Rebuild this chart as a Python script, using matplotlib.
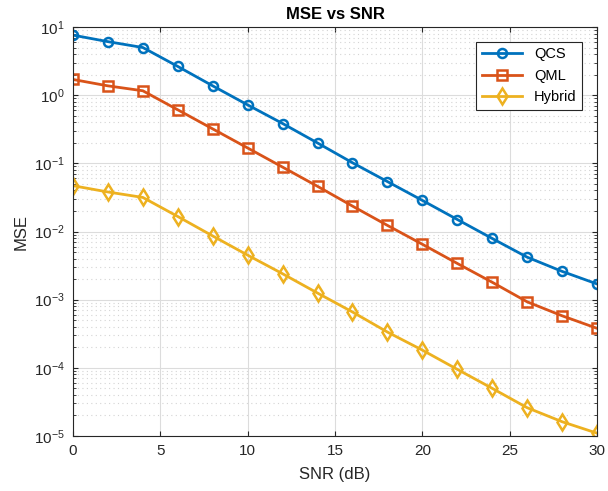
import numpy as np
import matplotlib.pyplot as plt
from matplotlib.ticker import LogLocator, NullFormatter

plt.rcParams['font.family'] = ['Liberation Sans', 'DejaVu Sans']

snr = [0, 2, 4, 6, 8, 10, 12, 14, 16, 18, 20, 22, 24, 26, 28, 30]
mse_qcs = [7.6, 6.1, 5.0, 2.64, 1.37, 0.72, 0.384, 0.199, 0.102, 0.054,
           0.0286, 0.015, 0.0079, 0.0042, 0.0026, 0.0017]
mse_qml = [1.70, 1.37, 1.16, 0.61, 0.32, 0.168, 0.088, 0.046, 0.0236, 0.0123,
           0.0065, 0.0034, 0.0018, 0.00093, 0.00058, 0.00038]
mse_hybrid = [0.047, 0.038, 0.0316, 0.0166, 0.0086, 0.0045, 0.0024, 0.00125,
              0.00066, 0.000335, 0.000182, 9.5e-5, 5.0e-5, 2.6e-5, 1.62e-5, 1.1e-5]

fig = plt.figure(figsize=(6.08, 4.91), dpi=100)
ax = fig.add_axes([0.120, 0.112, 0.862, 0.833])

style = dict(linewidth=2, markeredgewidth=1.8, markerfacecolor='none')
ax.semilogy(snr, mse_qcs, '-o', color='#0072BD', label='QCS', markersize=6.5, **style)
ax.semilogy(snr, mse_qml, '-s', color='#D95319', label='QML', markersize=6.5, **style)
ax.semilogy(snr, mse_hybrid, '-d', color='#EDB120', label='Hybrid', markersize=8.5, **style)

ax.set_xlim(0, 30)
ax.set_ylim(1e-5, 1e1)
ax.set_xticks([0, 5, 10, 15, 20, 25, 30])
ax.yaxis.set_minor_locator(LogLocator(base=10, subs=np.arange(2, 10)))
ax.yaxis.set_minor_formatter(NullFormatter())

ax.grid(True, which='major', color='#dcdcdc', linewidth=0.8)
ax.grid(True, which='minor', axis='y', color='#d4d4d4', linestyle=(0, (1, 3)), linewidth=0.8)
ax.set_axisbelow(True)

ax.tick_params(which='both', direction='in', top=True, right=True, colors='#262626',
               labelsize=11, pad=6)
ax.tick_params(axis='x', which='minor', bottom=False, top=False)
for sp in ax.spines.values():
    sp.set_color('#262626')
    sp.set_linewidth(0.8)

ax.set_xlabel('SNR (dB)', fontsize=12, color='#262626', labelpad=6)
ax.set_ylabel('MSE', fontsize=12, color='#262626')
ax.set_title('MSE vs SNR', fontsize=12, fontweight='bold')

leg = ax.legend(loc='upper right', fontsize=10.5, fancybox=False, framealpha=1,
                edgecolor='#262626', borderaxespad=1.0, handlelength=2.8)
leg.get_frame().set_linewidth(0.8)

fig.savefig('out.png', dpi=100)
